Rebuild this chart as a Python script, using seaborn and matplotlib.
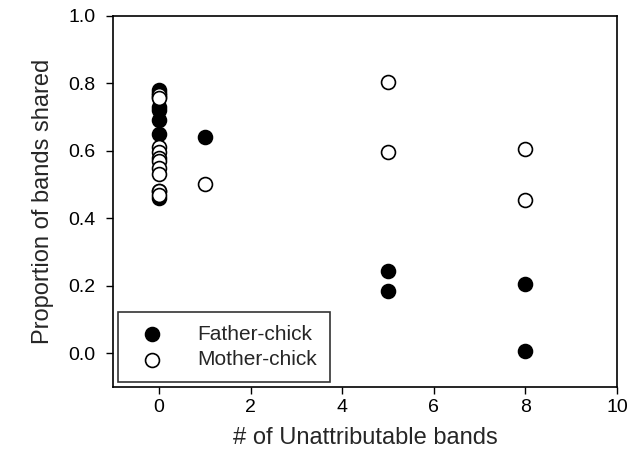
import pandas as pd
import matplotlib.pyplot as plt
import seaborn as sns

# values
father_x = [0, 0, 0, 0, 0, 0, 0, 0, 0, 1, 5, 5, 8, 8]
father_y = [0.78, 0.77, 0.76, 0.73, 0.72, 0.69, 0.65, 0.48, 0.46, 0.64, 0.245, 0.185, 0.205, 0.005]
mother_x = [0, 0, 0, 0, 0, 0, 0, 0, 0, 0, 1, 5, 5, 8, 8]
mother_y = [0.765, 0.755, 0.61, 0.595, 0.58, 0.57, 0.55, 0.53, 0.48, 0.47, 0.50, 0.805, 0.595, 0.605, 0.455]

df = pd.concat([
    pd.DataFrame({'x': father_x, 'y': father_y, 'pair': 'Father-chick'}),
    pd.DataFrame({'x': mother_x, 'y': mother_y, 'pair': 'Mother-chick'}),
])

sns.set_style('ticks')
plt.rcParams['font.family'] = ['Liberation Sans', 'DejaVu Sans']

fig = plt.figure(figsize=(6.29, 4.53), dpi=100)
ax = fig.add_axes([0.18, 0.146, 0.801, 0.819])

sub = df[df.pair == 'Father-chick']
sns.scatterplot(data=sub, x='x', y='y', ax=ax, s=100, color='black',
                edgecolor='black', linewidth=1.2, label='Father-chick', zorder=3)
sub = df[df.pair == 'Mother-chick']
sns.scatterplot(data=sub, x='x', y='y', ax=ax, s=100, color='white',
                edgecolor='black', linewidth=1.2, label='Mother-chick', zorder=4)

ax.set_xlim(-1, 10)
ax.set_ylim(-0.1, 1.0)
ax.set_xticks([0, 2, 4, 6, 8, 10])
ax.set_yticks([0.0, 0.2, 0.4, 0.6, 0.8, 1.0])
ax.set_yticklabels(['0.0', '0.2', '0.4', '0.6', '0.8', '1.0'])
ax.tick_params(direction='out', length=5, width=1, labelsize=14, colors='black')
ax.tick_params(axis='x', pad=4)
ax.tick_params(axis='y', pad=8)
for sp in ax.spines.values():
    sp.set_visible(True)
    sp.set_linewidth(1.2)
    sp.set_color('black')

ax.set_xlabel('# of Unattributable bands', fontsize=17, labelpad=8)
ax.set_ylabel('Proportion of bands shared', fontsize=17, labelpad=10)

leg = ax.legend(loc='lower left', fontsize=15, frameon=True, fancybox=False,
                edgecolor='black', borderpad=0.6, handletextpad=1.2,
                borderaxespad=0.25, labelspacing=0.3, markerscale=1.0)
leg.get_frame().set_linewidth(1.2)

fig.savefig('out.png', dpi=100)
